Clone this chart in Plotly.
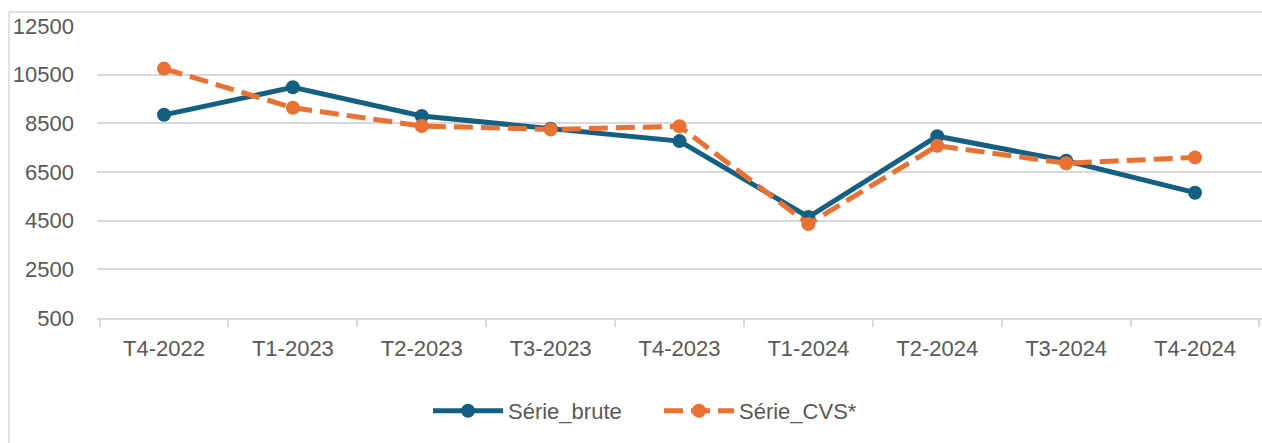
import plotly.graph_objects as go

categories = ["T4-2022", "T1-2023", "T2-2023", "T3-2023", "T4-2023",
              "T1-2024", "T2-2024", "T3-2024", "T4-2024"]
serie_brute = [8850, 9980, 8800, 8280, 7770, 4650, 7970, 6960, 5650]
serie_cvs = [10750, 9140, 8390, 8250, 8380, 4360, 7580, 6860, 7100]
y_ticks = [500, 2500, 4500, 6500, 8500, 10500, 12500]
y_ticktext = [str(v) for v in y_ticks]

BLUE = "#156082"
ORANGE = "#E97132"
FONT = "Liberation Sans, Arial, sans-serif"
TXT = "#595959"
GRID = "#D9D9D9"

fig = go.Figure()
fig.add_trace(go.Scatter(
    x=categories, y=serie_brute, name="Série_brute", mode="lines+markers",
    line=dict(color=BLUE, width=5),
    marker=dict(color=BLUE, size=14),
))
fig.add_trace(go.Scatter(
    x=categories, y=serie_cvs, name="Série_CVS*", mode="lines+markers",
    line=dict(color=ORANGE, width=5, dash="19px,8px"),
    marker=dict(color=ORANGE, size=14),
))

W, H = 1262, 443
L, R, T, B = 97, 0, 26, 125
pw, ph = W - L - R, H - T - B

fig.update_layout(
    width=W, height=H,
    margin=dict(l=L, r=R, t=T, b=B, autoexpand=False),
    paper_bgcolor="white", plot_bgcolor="white",
    font=dict(family=FONT, size=22, color=TXT),
    showlegend=True,
    legend=dict(orientation="h", x=(428 - L) / pw, xanchor="left",
                y=(T + ph - 411) / ph, yanchor="middle",
                itemwidth=70, entrywidth=146, entrywidthmode="pixels",
                font=dict(size=22, color=TXT),
                traceorder="normal"),
    shapes=[
        dict(type="line", xref="paper", yref="paper",
             x0=(9 - L) / pw, x1=(9 - L) / pw,
             y0=(T + ph - 12) / ph, y1=(T + ph - 445) / ph,
             line=dict(color=GRID, width=1.5)),
        dict(type="line", xref="paper", yref="paper",
             x0=(9 - L) / pw, x1=1.02,
             y0=(T + ph - 12) / ph, y1=(T + ph - 12) / ph,
             line=dict(color=GRID, width=1.5)),
    ],
)
fig.update_xaxes(
    type="category", tickson="boundaries", ticks="outside", ticklen=7,
    tickcolor=GRID, tickwidth=1.5, showline=True, linecolor=GRID, linewidth=1.5,
    showgrid=False, ticklabelstandoff=10, tickfont=dict(size=22, color=TXT),
    automargin=False,
)
fig.update_yaxes(
    range=[500, 12500], tickvals=y_ticks, ticktext=y_ticktext,
    showgrid=True, gridcolor=GRID,
    gridwidth=1.5, zeroline=False, showline=False, ticks="",
    ticklabelstandoff=22, tickfont=dict(size=22, color=TXT),
    automargin=False,
)

fig.write_html(
    "out.html",
    config={"displayModeBar": False},
    post_script="document.body.style.margin='0';document.body.style.overflow='hidden';",
)
